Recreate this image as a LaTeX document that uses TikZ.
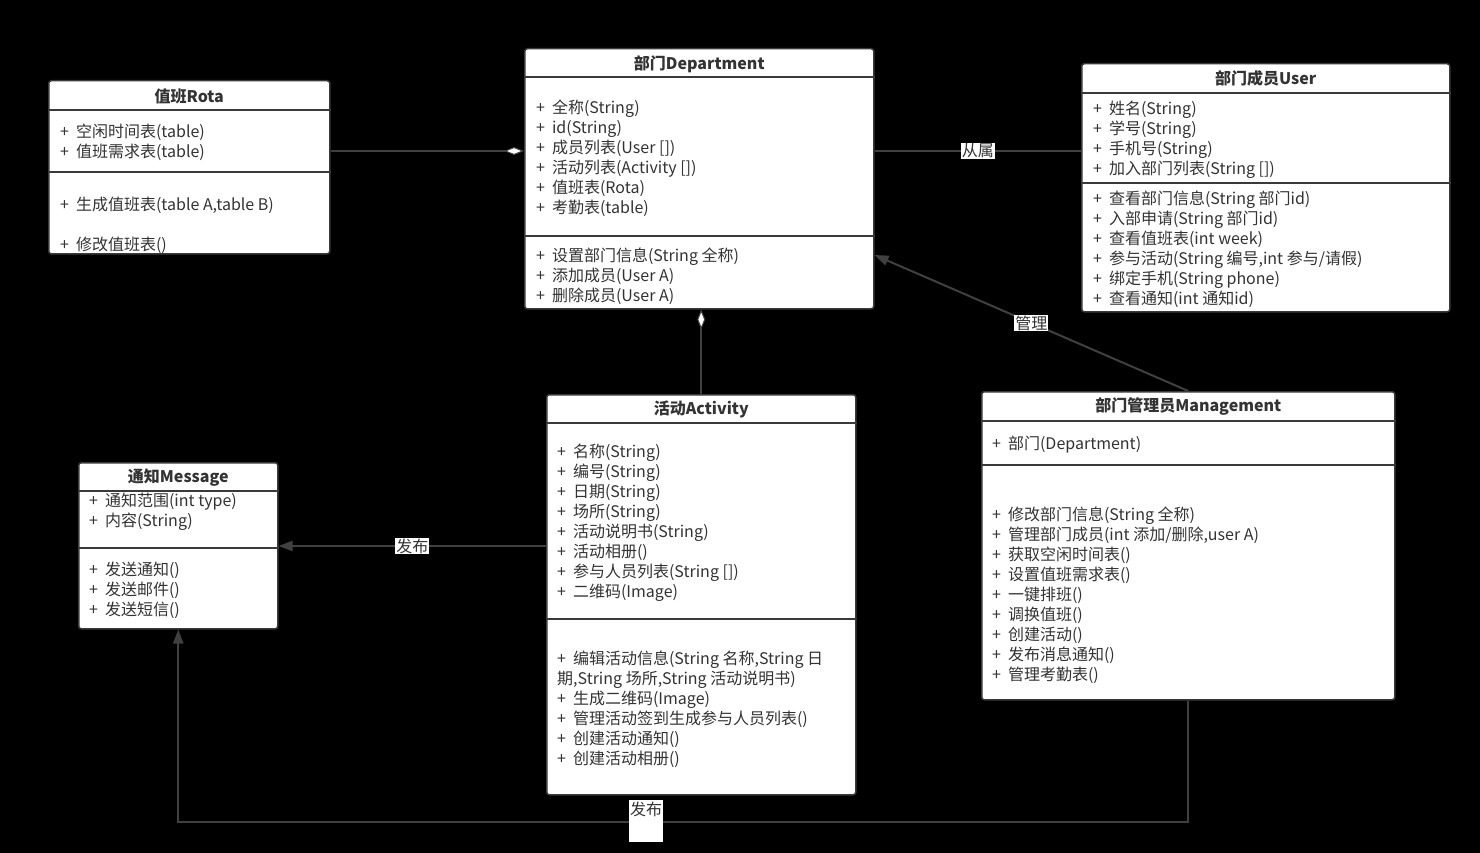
\documentclass[tikz,border=0pt]{standalone}
\usepackage{fontspec}
\setmainfont{Noto Sans CJK SC}
\usepackage{tikz}
\usetikzlibrary{arrows.meta,backgrounds,calc,positioning,fit}
\definecolor{boxgray}{HTML}{3A3A3A}
\definecolor{linegray}{HTML}{404040}
\definecolor{textgray}{HTML}{333333}
\newcommand{\pl}{+\hspace{7pt}}

\begin{document}
\begin{tikzpicture}[x=1pt,y=-1pt,
  cls/.style={draw=boxgray,line width=1.5pt,fill=white,rounded corners=2.5pt,anchor=north west,inner sep=0pt},
  ttl/.style={font=\fontsize{16}{20}\selectfont\bfseries,text=textgray,inner sep=0pt},
  txt/.style={font=\fontsize{16}{20}\selectfont,align=left,anchor=west,inner sep=0pt,text=textgray},
  sep/.style={draw=boxgray,line width=1.5pt},
  link/.style={draw=linegray,line width=2pt},
  lbl/.style={fill=white,inner sep=1pt,font=\fontsize{16}{18}\selectfont,text=textgray},
  agg/.style={-{Diamond[open,fill=white,length=20pt,width=8pt,line width=1pt]}},
  pub/.style={-{Triangle[fill=linegray,length=14pt,width=10pt]}}
]
\useasboundingbox (0,0) rectangle (1480,853);
\fill[black] (0,0) rectangle (1480,853);

% classes
\node[cls,minimum width=281pt,minimum height=173pt] (rota) at (48,80) {};
\node[cls,minimum width=349pt,minimum height=260pt] (dept) at (524,48) {};
\node[cls,minimum width=368pt,minimum height=248pt] (user) at (1081,63) {};
\node[cls,minimum width=309pt,minimum height=400pt] (act) at (546,394) {};
\node[cls,minimum width=413pt,minimum height=308pt] (mgmt) at (981,391) {};
\node[cls,minimum width=199pt,minimum height=166pt] (msg) at (78,462) {};

% 值班Rota
\node[ttl] (rotaT) at (rota.north |- 0,96) {值班Rota};
\draw[sep] (rota.west |- 0,110) -- (rota.east |- 0,110);
\draw[sep] (rota.west |- 0,172) -- (rota.east |- 0,172);
\node[txt] (rotaA) at (60,142) {\pl 空闲时间表(table)\\\pl 值班需求表(table)};
\node[txt] (rotaM) at (60,225) {\pl 生成值班表(table A,table B)\\[20pt]\pl 修改值班表()};

% 部门Department
\node[ttl] (deptT) at (dept.north |- 0,64) {部门Department};
\draw[sep] (dept.west |- 0,77) -- (dept.east |- 0,77);
\draw[sep] (dept.west |- 0,236) -- (dept.east |- 0,236);
\node[txt] (deptA) at (536,158) {\pl 全称(String)\\\pl id(String)\\\pl 成员列表(User [])\\\pl 活动列表(Activity [])\\\pl 值班表(Rota)\\\pl 考勤表(table)};
\node[txt] (deptM) at (536,276) {\pl 设置部门信息(String 全称)\\\pl 添加成员(User A)\\\pl 删除成员(User A)};

% 部门成员User
\node[ttl] (userT) at (user.north |- 0,78) {部门成员User};
\draw[sep] (user.west |- 0,93) -- (user.east |- 0,93);
\draw[sep] (user.west |- 0,183) -- (user.east |- 0,183);
\node[txt] (userA) at (1093,140) {\pl 姓名(String)\\\pl 学号(String)\\\pl 手机号(String)\\\pl 加入部门列表(String [])};
\node[txt] (userM) at (1093,249) {\pl 查看部门信息(String 部门id)\\\pl 入部申请(String 部门id)\\\pl 查看值班表(int week)\\\pl 参与活动(String 编号,int 参与/请假)\\\pl 绑定手机(String phone)\\\pl 查看通知(int 通知id)};

% 活动Activity
\node[ttl] (actT) at (act.north |- 0,409) {活动Activity};
\draw[sep] (act.west |- 0,423) -- (act.east |- 0,423);
\draw[sep] (act.west |- 0,619) -- (act.east |- 0,619);
\node[txt] (actA) at (557,523) {\pl 名称(String)\\\pl 编号(String)\\\pl 日期(String)\\\pl 场所(String)\\\pl 活动说明书(String)\\\pl 活动相册()\\\pl 参与人员列表(String [])\\\pl 二维码(Image)};
\node[txt] (actM) at (557,709) {\pl 编辑活动信息(String 名称,String 日\\期,String 场所,String 活动说明书)\\\pl 生成二维码(Image)\\\pl 管理活动签到生成参与人员列表()\\\pl 创建活动通知()\\\pl 创建活动相册()};

% 部门管理员Management
\node[ttl] (mgmtT) at (mgmt.north |- 0,406) {部门管理员Management};
\draw[sep] (mgmt.west |- 0,421) -- (mgmt.east |- 0,421);
\draw[sep] (mgmt.west |- 0,465) -- (mgmt.east |- 0,465);
\node[txt] (mgmtA) at (992,445) {\pl 部门(Department)};
\node[txt] (mgmtM) at (992,595) {\pl 修改部门信息(String 全称)\\\pl 管理部门成员(int 添加/删除,user A)\\\pl 获取空闲时间表()\\\pl 设置值班需求表()\\\pl 一键排班()\\\pl 调换值班()\\\pl 创建活动()\\\pl 发布消息通知()\\\pl 管理考勤表()};

% 通知Message
\node[ttl] (msgT) at (msg.north |- 0,478) {通知Message};
\draw[sep] (msg.west |- 0,491) -- (msg.east |- 0,491);
\draw[sep] (msg.west |- 0,548) -- (msg.east |- 0,548);
\node[txt] (msgA) at (89,512) {\pl 通知范围(int type)\\\pl 内容(String)};
\node[txt] (msgM) at (89,590) {\pl 发送通知()\\\pl 发送邮件()\\\pl 发送短信()};

% connectors
\coordinate (low) at (0,822);
\draw[link,agg] (rota.east |- 0,151) -- (dept.west |- 0,151);
\draw[link] (dept.east |- 0,151) -- node[lbl]{从属} (user.west |- 0,151);
\draw[link,pub] (mgmt.north) -- node[lbl,pos=0.5]{管理} (dept.east |- 0,255);
\draw[link,agg] (act.north) -- (act.north |- dept.south);
\draw[link,pub] (act.west |- 0,546) -- node[lbl]{发布} (msg.east |- 0,546);
\draw[link,pub] (mgmt.south) -- (mgmt.south |- low) -- (msg.south |- low) -- (msg.south);
\node[lbl,anchor=north,text height=14pt,text depth=26pt] (pubB) at (646,800) {发布};
\end{tikzpicture}
\end{document}
